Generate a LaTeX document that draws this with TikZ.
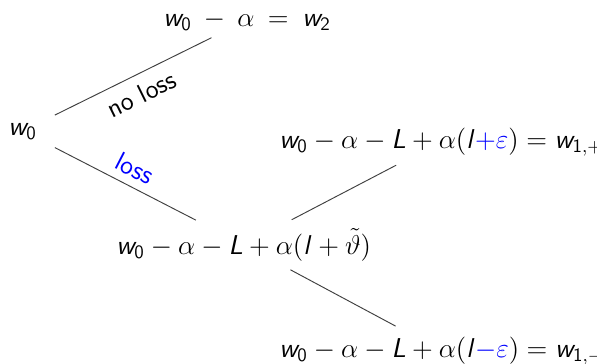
\documentclass[tikz,border=0pt]{standalone}
\DeclareSymbolFont{sfletters}{OT1}{cmss}{m}{sl}
\DeclareSymbolFont{sfdigits}{OT1}{cmss}{m}{n}
\DeclareMathSymbol{w}{\mathalpha}{sfletters}{`w}
\DeclareMathSymbol{l}{\mathalpha}{sfletters}{`l}
\DeclareMathSymbol{L}{\mathalpha}{sfletters}{`L}
\DeclareMathSymbol{0}{\mathalpha}{sfdigits}{`0}
\DeclareMathSymbol{1}{\mathalpha}{sfdigits}{`1}
\DeclareMathSymbol{2}{\mathalpha}{sfdigits}{`2}
\tikzset{
  term/.style={inner sep=0pt, anchor=base west},
  conn/.style={draw=black!75, line width=0.5pt},
  lab/.style={font=\fontsize{14}{16}\selectfont\sffamily, sloped},
}
\begin{document}
\begin{tikzpicture}[x=0.529pt, y=0.529pt, font=\fontsize{14.4}{17}\selectfont]
\useasboundingbox (0,0) rectangle (597,-364);
\node[term] (w0)  at (8,-135)  {$w_0$};
\node[term] (top) at (163,-26) {$w_0 \:-\: \alpha \:=\: w_2$};
\node[term] (mid) at (116,-254) {$w_0-\alpha-L+\alpha(l+\tilde{\vartheta})$};
\node[term] (tr)  at (279,-148) {$w_0-\alpha-L+\alpha(l{\color{blue}+\varepsilon})=w_{1,+}$};
\node[term] (br)  at (279,-357) {$w_0-\alpha-L+\alpha(l{\color{blue}-\varepsilon})=w_{1,-}$};
\draw[conn, shorten <=19pt, shorten >=21pt] (w0.center) -- (top.center)
  node[lab, pos=0.49, below, inner sep=5.3pt] {no loss};
\draw[conn, shorten <=19.2pt, shorten >=28.5pt] (w0.center) -- (mid.center)
  node[lab, pos=0.47, above, inner sep=4.3pt, text=blue] {loss};
\draw[conn, shorten <=28.6pt, shorten >=26.9pt] (mid.center) -- (tr.center);
\draw[conn, shorten <=28pt, shorten >=27.5pt] (mid.center) -- (br.center);
\end{tikzpicture}
\end{document}
